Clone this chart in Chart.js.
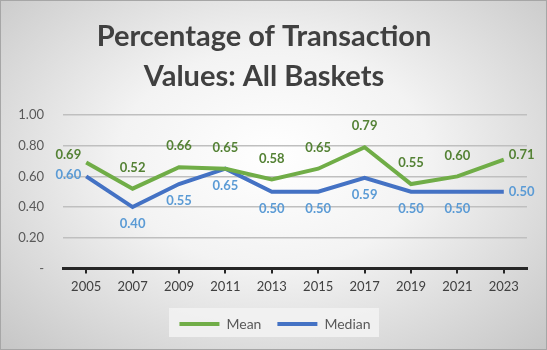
<!DOCTYPE html>
<html>
    <head>
        <meta charset="utf-8">
        <title>Percentage of Transaction Values</title>
        <script src="https://cdn.jsdelivr.net/npm/chart.js@4.4.1/dist/chart.umd.min.js"></script>
        <style>
            html, body { margin: 0; padding: 0; }
            #box {
                width: 545px; height: 348px;
                border: 1px solid #a6a6a6;
                background: radial-gradient(ellipse at 50% 45%, #ffffff 0%, #f3f3f3 40%, #c6c6c6 100%);
            }
        </style>
    </head>

    <body>
        <div id="box">
            <canvas id="wykres" width="545" height="348"></canvas>
        </div>

        <script>
            var lata = ["2005", "2007", "2009", "2011", "2013", "2015", "2017", "2019", "2021", "2023"];
            var srednia = [0.69, 0.52, 0.66, 0.65, 0.58, 0.65, 0.79, 0.55, 0.60, 0.71];
            var mediana = [0.60, 0.40, 0.55, 0.65, 0.50, 0.50, 0.59, 0.50, 0.50, 0.50];
            var yTicks = [0, 0.2, 0.4, 0.6, 0.8, 1.0];

            // where each value label sits relative to its point
            var pozSrednia = ["left", "above", "above", "above", "above", "above", "above", "above", "above", "right"];
            var pozMediana = ["left", "below", "below", "below", "below", "below", "below", "below", "below", "right"];

            var etykiety = {
                id: "etykiety",
                afterDatasetsDraw: function (chart) {
                    var ctx = chart.ctx;
                    ctx.save();
                    ctx.font = "bold 13px Lato";
                    ctx.textBaseline = "middle";
                    chart.data.datasets.forEach(function (ds, d) {
                        var meta = chart.getDatasetMeta(d);
                        meta.data.forEach(function (pt, i) {
                            var p = ds.labelPos[i];
                            var x = pt.x, y = pt.y;
                            ctx.textAlign = "center";
                            if (p === "above") { y -= 21; }
                            else if (p === "below") { y += 17; }
                            else if (p === "left") { ctx.textAlign = "right"; x -= 5; y -= (d === 0 ? 8 : 2); }
                            else if (p === "right") { ctx.textAlign = "left"; x += 5; y -= (d === 0 ? 5 : 0); }
                            ctx.fillStyle = ds.labelColor;
                            ctx.fillText(ds.data[i].toFixed(2), x, y);
                        });
                    });
                    ctx.restore();
                }
            };

            // legend box + small shift to the right, like in the original
            var tloLegendy = {
                id: "tloLegendy",
                afterLayout: function (chart) {
                    var l = chart.legend;
                    if (!l) return;
                    l.left += 11;
                    l.right += 11;
                },
                beforeDraw: function (chart) {
                    var ctx = chart.ctx;
                    ctx.save();
                    ctx.fillStyle = "rgba(242,242,242,0.9)";
                    ctx.fillRect(168, 307, 210, 29);
                    ctx.restore();
                }
            };

            var wykres = new Chart(document.getElementById("wykres").getContext("2d"), {
                type: "line",
                data: {
                    labels: lata,
                    datasets: [{
                        label: "Mean",
                        data: srednia,
                        borderColor: "#70ad47",
                        backgroundColor: "#70ad47",
                        borderWidth: 4,
                        pointRadius: 0,
                        tension: 0,
                        labelPos: pozSrednia,
                        labelColor: "#548235"
                    }, {
                        label: "Median",
                        data: mediana,
                        borderColor: "#4472c4",
                        backgroundColor: "#4472c4",
                        borderWidth: 4,
                        pointRadius: 0,
                        tension: 0,
                        labelPos: pozMediana,
                        labelColor: "#5b9bd5"
                    }]
                },
                options: {
                    responsive: false,
                    animation: false,
                    layout: { padding: { left: 0, right: 19, top: 0, bottom: 8 } },
                    plugins: {
                        title: {
                            display: true,
                            text: ["Percentage of Transaction", "Values: All Baskets"],
                            color: "#404040",
                            font: { family: "Lato", size: 29, weight: "bold", lineHeight: 1.38 },
                            padding: { top: 16, bottom: 18 }
                        },
                        legend: {
                            position: "bottom",
                            labels: {
                                usePointStyle: true,
                                pointStyle: "line",
                                pointStyleWidth: 40,
                                color: "#595959",
                                font: { family: "Lato", size: 14 },
                                padding: 16
                            }
                        },
                        tooltip: { enabled: false }
                    },
                    scales: {
                        x: {
                            offset: true,
                            grid: { drawOnChartArea: false, color: "#262626", tickLength: 5, lineWidth: 2 },
                            border: { color: "#262626", width: 3 },
                            ticks: { color: "#404040", font: { family: "Lato", size: 13 }, padding: 6, maxRotation: 0 }
                        },
                        y: {
                            min: 0,
                            max: 1,
                            afterFit: function (axis) { axis.width = 62; },
                            afterBuildTicks: function (axis) {
                                axis.ticks = yTicks.map(function (v) { return { value: v }; });
                            },
                            grid: { drawTicks: false, color: "#bfbfbf", lineWidth: 1.5 },
                            border: { display: false },
                            ticks: {
                                color: "#595959",
                                font: { family: "Lato", size: 13 },
                                padding: 19,
                                callback: function (v) { return v === 0 ? "-" : v.toFixed(2); }
                            }
                        }
                    }
                },
                plugins: [tloLegendy, etykiety]
            });
        </script>
    </body>
</html>
